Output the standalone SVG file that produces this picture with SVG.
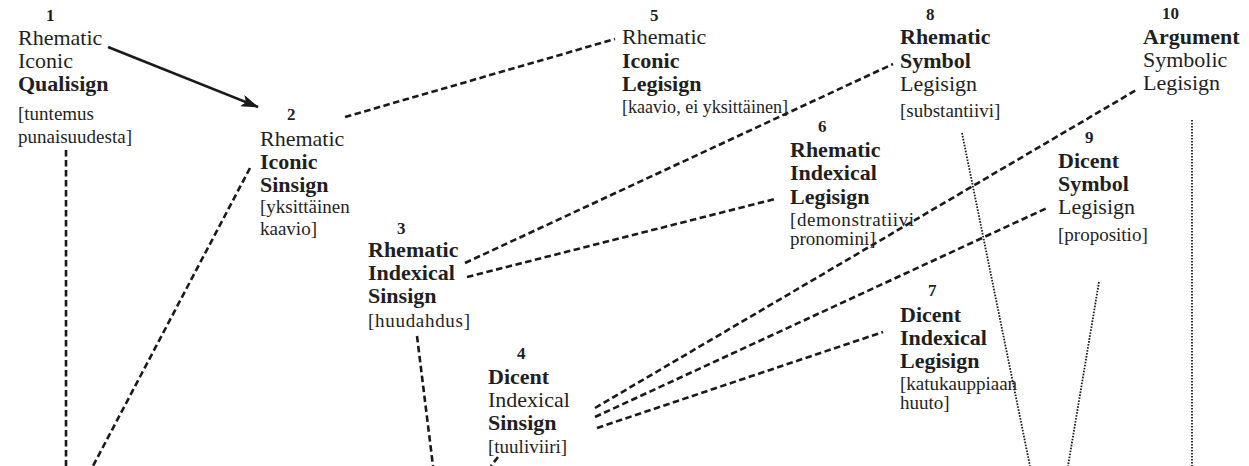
<svg xmlns="http://www.w3.org/2000/svg" width="1249" height="466" viewBox="0 0 1249 466">
<defs>
<marker id="arr" viewBox="0 0 18 12" refX="17" refY="6" markerWidth="18" markerHeight="12" markerUnits="userSpaceOnUse" orient="auto">
<path d="M0,0 L18,6 L0,12 L4,6 Z" fill="#1a1a1a"/>
</marker>
<style>
text{font-family:"Liberation Serif","Times New Roman",serif;fill:#1f1f1f;}
.n{font-size:17px;font-weight:bold;}
.r{font-size:22px;}
.b{font-size:22px;font-weight:bold;}
.s{font-size:19px;}
.dash{stroke:#1a1a1a;stroke-width:2.6;stroke-dasharray:6.5 3.5;fill:none;}
.dot{stroke:#1a1a1a;stroke-width:1.8;stroke-dasharray:1.6 1.4;fill:none;}
.solid{stroke:#1a1a1a;stroke-width:2.6;fill:none;}
</style>
</defs>
<rect width="1249" height="466" fill="#ffffff"/>
<g id="connectors">
<line class="solid" x1="108" y1="47" x2="258" y2="107" marker-end="url(#arr)"/>
<line class="dash" x1="345" y1="117" x2="615" y2="39"/>
<line class="dash" x1="66" y1="150" x2="66" y2="466"/>
<line class="dash" x1="250" y1="168" x2="93" y2="466"/>
<line class="dash" x1="465" y1="263" x2="893" y2="64"/>
<line class="dash" x1="467" y1="277" x2="775" y2="199"/>
<line class="dash" x1="417" y1="336" x2="433" y2="466"/>
<line class="dash" x1="498" y1="457" x2="491" y2="466"/>
<line class="dash" x1="595" y1="408" x2="1138" y2="89"/>
<line class="dash" x1="595" y1="417" x2="1047" y2="208"/>
<line class="dash" x1="597" y1="428" x2="883" y2="332"/>
<line class="dot" x1="962" y1="133" x2="1030" y2="466"/>
<line class="dot" x1="1099" y1="282" x2="1068" y2="466"/>
<line class="dot" x1="1192" y1="120" x2="1192" y2="466"/>
</g>
<g id="node1">
<text class="n" x="46" y="21">1</text>
<text class="r" x="18" y="45">Rhematic</text>
<text class="r" x="18" y="68">Iconic</text>
<text class="b" x="18" y="91">Qualisign</text>
<text class="s" x="18" y="120">[tuntemus</text>
<text class="s" x="18" y="143">punaisuudesta]</text>
</g>
<g id="node2">
<text class="n" x="287" y="120">2</text>
<text class="r" x="260" y="146">Rhematic</text>
<text class="b" x="260" y="169">Iconic</text>
<text class="b" x="260" y="192">Sinsign</text>
<text class="s" x="260" y="213">[yksittäinen</text>
<text class="s" x="260" y="235">kaavio]</text>
</g>
<g id="node3">
<text class="n" x="397" y="234">3</text>
<text class="b" x="368" y="257">Rhematic</text>
<text class="b" x="368" y="280">Indexical</text>
<text class="b" x="368" y="303">Sinsign</text>
<text class="s" x="368" y="327" textLength="102" lengthAdjust="spacing">[huudahdus]</text>
</g>
<g id="node4">
<text class="n" x="517" y="359">4</text>
<text class="b" x="488" y="384">Dicent</text>
<text class="r" x="488" y="407">Indexical</text>
<text class="b" x="488" y="430">Sinsign</text>
<text class="s" x="488" y="453">[tuuliviiri]</text>
</g>
<g id="node5">
<text class="n" x="650" y="21">5</text>
<text class="r" x="622" y="44">Rhematic</text>
<text class="b" x="622" y="68">Iconic</text>
<text class="b" x="622" y="91">Legisign</text>
<text class="s" x="622" y="113" textLength="166" lengthAdjust="spacingAndGlyphs">[kaavio, ei yksittäinen]</text>
</g>
<g id="node6">
<text class="n" x="818" y="132">6</text>
<text class="b" x="790" y="157">Rhematic</text>
<text class="b" x="790" y="180">Indexical</text>
<text class="b" x="790" y="204">Legisign</text>
<text class="s" x="790" y="226" textLength="124" lengthAdjust="spacing">[demonstratiivi</text>
<text class="s" x="790" y="245">pronomini]</text>
</g>
<g id="node7">
<text class="n" x="928" y="296">7</text>
<text class="b" x="900" y="322">Dicent</text>
<text class="b" x="900" y="345">Indexical</text>
<text class="b" x="900" y="368">Legisign</text>
<text class="s" x="900" y="390">[katukauppiaan</text>
<text class="s" x="900" y="409">huuto]</text>
</g>
<g id="node8">
<text class="n" x="926" y="20">8</text>
<text class="b" x="900" y="44">Rhematic</text>
<text class="b" x="900" y="68">Symbol</text>
<text class="r" x="900" y="91">Legisign</text>
<text class="s" x="900" y="117">[substantiivi]</text>
</g>
<g id="node9">
<text class="n" x="1085" y="143">9</text>
<text class="b" x="1058" y="168">Dicent</text>
<text class="b" x="1058" y="191">Symbol</text>
<text class="r" x="1058" y="214">Legisign</text>
<text class="s" x="1058" y="241">[propositio]</text>
</g>
<g id="node10">
<text class="n" x="1162" y="19">10</text>
<text class="b" x="1143" y="44">Argument</text>
<text class="r" x="1143" y="67">Symbolic</text>
<text class="r" x="1143" y="90">Legisign</text>
</g>
</svg>
